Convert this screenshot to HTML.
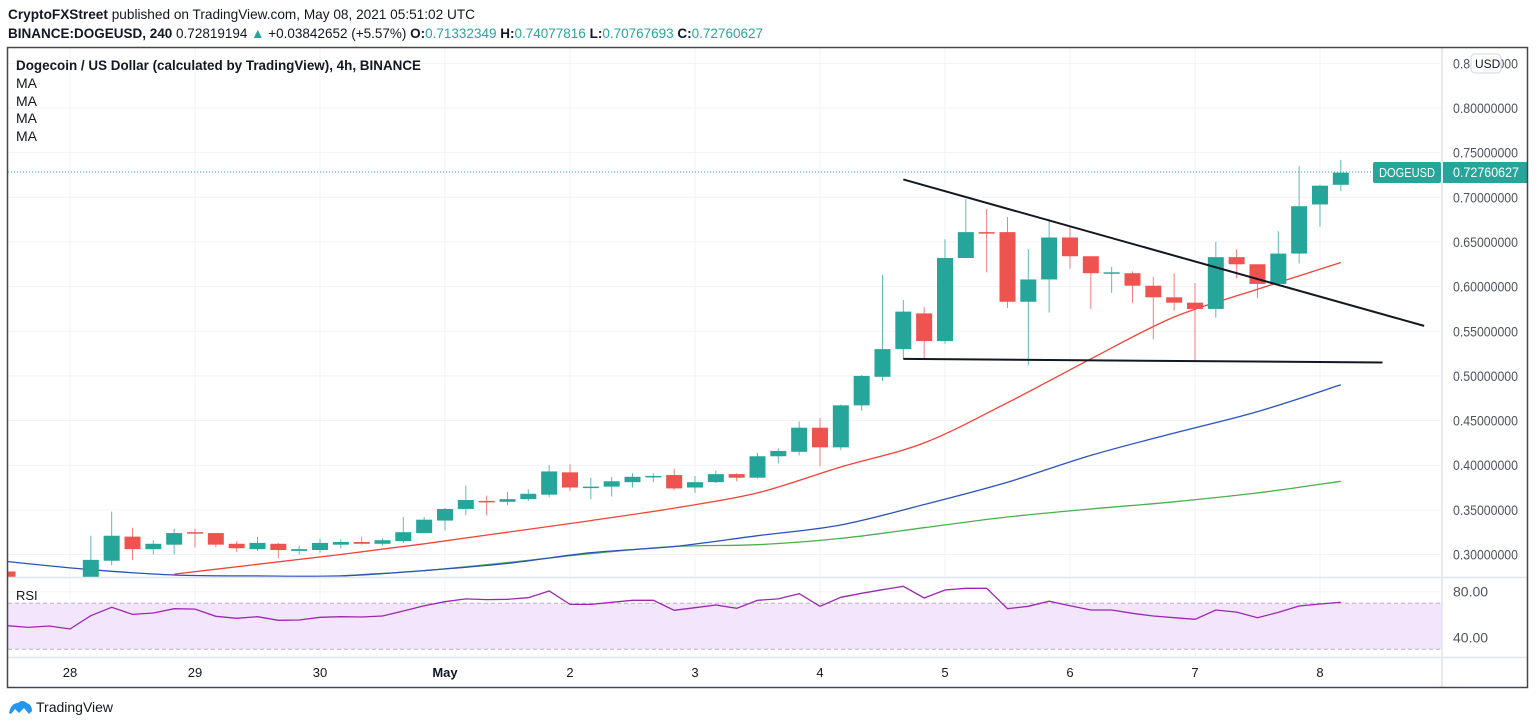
<!DOCTYPE html>
<html><head><meta charset="utf-8"><style>
html,body{margin:0;padding:0;background:#fff;}
svg{display:block;font-family:"Liberation Sans",sans-serif;}
</style></head><body>
<svg id="chart" width="1536" height="727" viewBox="0 0 1536 727" xmlns="http://www.w3.org/2000/svg">
<defs>
<clipPath id="mainClip"><rect x="8" y="48" width="1434" height="529"/></clipPath>
</defs>
<g>
<text x="8" y="19" font-size="14" fill="#131722" textLength="467" lengthAdjust="spacingAndGlyphs"><tspan font-weight="bold">CryptoFXStreet</tspan> published on TradingView.com, May 08, 2021 05:51:02 UTC</text>
<text x="8" y="38" font-size="14" fill="#131722" textLength="755" lengthAdjust="spacingAndGlyphs"><tspan font-weight="bold">BINANCE:DOGEUSD, 240</tspan> 0.72819194 <tspan fill="#26a69a">▲</tspan> +0.03842652 (+5.57%) <tspan font-weight="bold">O:</tspan><tspan fill="#26a69a">0.71332349</tspan> <tspan font-weight="bold">H:</tspan><tspan fill="#26a69a">0.74077816</tspan> <tspan font-weight="bold">L:</tspan><tspan fill="#26a69a">0.70767693</tspan> <tspan font-weight="bold">C:</tspan><tspan fill="#26a69a">0.72760627</tspan></text>
</g>
<g id="grid"></g>
<g id="mas" clip-path="url(#mainClip)"></g>
<g id="candles" clip-path="url(#mainClip)"></g>
<g id="trend" clip-path="url(#mainClip)"></g>
<line x1="8" y1="172" x2="1442" y2="172" stroke="#26a69a" stroke-width="1" stroke-dasharray="1,2"/>
<g id="rsi"></g>
<g id="axes"></g>
<g>
<text x="16" y="70" font-size="14" font-weight="bold" fill="#131722" textLength="405" lengthAdjust="spacingAndGlyphs">Dogecoin / US Dollar (calculated by TradingView), 4h, BINANCE</text>
<text x="16" y="88" font-size="14" fill="#131722">MA</text>
<text x="16" y="106" font-size="14" fill="#131722">MA</text>
<text x="16" y="123" font-size="14" fill="#131722">MA</text>
<text x="16" y="141" font-size="14" fill="#131722">MA</text>
<text x="16" y="600" font-size="13" fill="#131722">RSI</text>
</g>
<rect x="1373" y="162" width="68" height="21" rx="2" fill="#26a69a"/>
<text x="1379" y="177" font-size="13" fill="#fff" textLength="56" lengthAdjust="spacingAndGlyphs">DOGEUSD</text>
<rect x="1443" y="162" width="84" height="21" fill="#26a69a"/>
<text x="1453" y="177" font-size="14" fill="#fff" textLength="66" lengthAdjust="spacingAndGlyphs">0.72760627</text>
<rect x="1471" y="54" width="30" height="19" rx="4" fill="#fff" stroke="#d1d4dc"/>
<text x="1475" y="68" font-size="12" fill="#131722">USD</text>
<rect x="7.5" y="47.5" width="1520" height="640" fill="none" stroke="#434651" stroke-width="1.5"/>
<g>
<path d="M9 713 Q11 703 18 703 Q22 699 27 703 Q32 705 32 711 L29 714 L24 708 L19 713 L15 709 L11 714 Z" fill="#2196f3"/>
<text x="36" y="712" font-size="14" fill="#131722">TradingView</text>
</g>
</svg>
<script>
// candle data (index i -> 4h bars, starting Apr 27 12:00)
const opens  = [0.281,0.262,0.262,0.262,0.262,0.293,0.320,0.306,0.311,0.325,0.324,0.312,0.306,0.312,0.304,0.305,0.311,0.314,0.312,0.315,0.324,0.338,0.351,0.360,0.359,0.362,0.367,0.392,0.375,0.376,0.381,0.387,0.389,0.375,0.381,0.390,0.386,0.410,0.415,0.442,0.420,0.467,0.499,0.530,0.570,0.539,0.632,0.661,0.661,0.583,0.608,0.655,0.634,0.615,0.615,0.601,0.588,0.582,0.575,0.633,0.625,0.603,0.637,0.692,0.714];
const closes = [0.272,0.263,0.263,0.261,0.294,0.321,0.306,0.312,0.324,0.324,0.311,0.307,0.313,0.305,0.306,0.313,0.314,0.312,0.316,0.325,0.339,0.351,0.361,0.359,0.362,0.368,0.393,0.375,0.376,0.382,0.387,0.388,0.374,0.381,0.390,0.386,0.410,0.416,0.442,0.420,0.467,0.500,0.530,0.572,0.539,0.632,0.661,0.660,0.583,0.608,0.655,0.634,0.615,0.616,0.601,0.588,0.582,0.575,0.633,0.625,0.603,0.637,0.690,0.713,0.7276];
const highs  = [0.283,0.266,0.268,0.266,0.321,0.348,0.330,0.316,0.329,0.329,0.324,0.315,0.320,0.313,0.310,0.318,0.317,0.320,0.318,0.342,0.342,0.352,0.377,0.366,0.370,0.373,0.400,0.401,0.386,0.387,0.391,0.391,0.396,0.388,0.394,0.391,0.414,0.419,0.449,0.453,0.468,0.501,0.613,0.585,0.577,0.653,0.698,0.687,0.678,0.642,0.676,0.667,0.634,0.622,0.617,0.611,0.615,0.604,0.650,0.642,0.625,0.662,0.735,0.714,0.742];
const lows   = [0.265,0.258,0.258,0.258,0.260,0.288,0.294,0.300,0.300,0.308,0.308,0.303,0.304,0.296,0.300,0.302,0.307,0.311,0.310,0.313,0.324,0.327,0.344,0.344,0.355,0.360,0.364,0.371,0.362,0.365,0.375,0.381,0.372,0.369,0.380,0.382,0.385,0.402,0.411,0.399,0.417,0.461,0.494,0.519,0.520,0.536,0.632,0.616,0.576,0.512,0.571,0.620,0.575,0.593,0.582,0.541,0.573,0.517,0.565,0.609,0.587,0.603,0.626,0.667,0.707];
// moving averages sampled every 4 bars (bar index 0,4,8,...,64)
const maRed   = [null,null,0.278,0.289,0.300,0.312,0.325,0.338,0.352,0.369,0.398,0.425,0.470,0.519,0.566,0.597,0.627];
const maBlue  = [0.292,0.283,0.277,0.276,0.276,0.282,0.290,0.302,0.309,0.321,0.333,0.356,0.381,0.411,0.436,0.460,0.490];
const maGreen = [null,null,null,null,0.276,0.282,0.291,0.301,0.309,0.311,0.318,0.330,0.342,0.351,0.359,0.369,0.382];
const rsiVals = [50.4,49.0,50.2,47.6,59.1,66.4,60.3,61.5,65.2,64.9,58.6,56.9,58.3,55.1,55.4,57.7,58.3,58.0,58.9,63.2,67.8,71.3,73.7,73.1,73.4,74.8,80.6,69.0,69.0,70.8,72.5,72.5,63.8,66.1,68.4,65.6,72.5,73.7,78.3,67.3,75.1,78.6,81.7,84.7,74.5,81.5,83.0,83.0,65.2,67.3,71.7,67.8,64.1,64.1,61.2,58.9,57.4,56.0,64.1,62.3,57.4,62.0,67.6,69.3,70.8];
const priceTicks = [0.85,0.80,0.75,0.70,0.65,0.60,0.55,0.50,0.45,0.40,0.35,0.30];
const rsiTicks = [80,40];
const dayLabels = ["28","29","30","May","2","3","4","5","6","7","8"];
const dayBarIndex = [3,9,15,21,27,33,39,45,51,57,63];
// trendlines in (bar index, price)
const upperTrend = [[43,0.720],[68,0.556]];
const lowerTrend = [[43,0.519],[66,0.515]];

const NS="http://www.w3.org/2000/svg";
const xOf = i => 7.5 + i*20.833;
const yOf = p => 108 + (0.80-p)*893;
const rY = v => 591.7 + (80-v)*1.15;
function mk(tag, attrs, parent){const e=document.createElementNS(NS,tag);for(const k in attrs)e.setAttribute(k,attrs[k]);parent.appendChild(e);return e;}
const grid=document.getElementById('grid'), cg=document.getElementById('candles'), mg=document.getElementById('mas'), tg=document.getElementById('trend'), rg=document.getElementById('rsi'), ag=document.getElementById('axes');

// grid
priceTicks.forEach(p=>{const l=mk('line',{x1:8,x2:1442,y1:yOf(p),y2:yOf(p),stroke:'#f0f3fa','stroke-width':1},grid);

});
dayBarIndex.forEach(i=>{const l=mk('line',{x1:xOf(i),x2:xOf(i),y1:48,y2:657,stroke:'#f0f3fa','stroke-width':1},grid);

});
rsiTicks.forEach(v=>{const l=mk('line',{x1:8,x2:1442,y1:rY(v),y2:rY(v),stroke:'#f0f3fa'},grid);

});
mk('line',{x1:1442,x2:1442,y1:48,y2:688,stroke:'#e0e3eb','stroke-width':1.5},ag);
mk('line',{x1:8,x2:1528,y1:577.5,y2:577.5,stroke:'#e0e3eb','stroke-width':1.5},ag);
mk('line',{x1:8,x2:1528,y1:657.5,y2:657.5,stroke:'#e0e3eb','stroke-width':1.5},ag);

// MAs (smoothed through sample points, Catmull-Rom)
function maPath(arr,color,name){const pts=[];arr.forEach((v,k)=>{if(v!=null)pts.push([xOf(k*4),yOf(v)]);});
let d='M'+pts[0][0].toFixed(1)+' '+pts[0][1].toFixed(1);
for(let i=0;i<pts.length-1;i++){const p0=pts[i-1]||pts[i],p1=pts[i],p2=pts[i+1],p3=pts[i+2]||p2;
const c1=[p1[0]+(p2[0]-p0[0])/6,p1[1]+(p2[1]-p0[1])/6],c2=[p2[0]-(p3[0]-p1[0])/6,p2[1]-(p3[1]-p1[1])/6];
d+='C'+c1[0].toFixed(1)+' '+c1[1].toFixed(1)+' '+c2[0].toFixed(1)+' '+c2[1].toFixed(1)+' '+p2[0].toFixed(1)+' '+p2[1].toFixed(1);}
const p=mk('path',{d:d,fill:'none',stroke:color,'stroke-width':1.3},mg);

}
maPath(maGreen,'#4caf50','ma-green');
maPath(maBlue,'#2a52be','ma-blue');
maPath(maRed,'#f44336','ma-red');

// candles
opens.forEach((o,i)=>{const c=closes[i],up=c>=o,col=up?'#26a69a':'#ef5350',x=xOf(i);
const w=mk('line',{x1:x,x2:x,y1:yOf(highs[i]),y2:yOf(lows[i]),stroke:col,'stroke-width':1,opacity:0.75},cg);


const top=yOf(Math.max(o,c)),h=Math.max(1.5,Math.abs(yOf(o)-yOf(c)));
const b=mk('rect',{x:x-8,y:top,width:16,height:h,fill:col},cg);

});

// trendlines
[[upperTrend,'upper-trendline'],[lowerTrend,'lower-trendline']].forEach(([t,n])=>{const l=mk('line',{x1:xOf(t[0][0]),y1:yOf(t[0][1]),x2:xOf(t[1][0]),y2:yOf(t[1][1]),stroke:'#131722','stroke-width':2},tg);

});

// RSI
const band=mk('rect',{x:8,y:rY(70),width:1434,height:rY(30)-rY(70),fill:'#f3e5fc'},rg);


[70,30].forEach(v=>{const l=mk('line',{x1:8,x2:1442,y1:rY(v),y2:rY(v),stroke:'#b2b5be','stroke-dasharray':'4,3'},rg);

});
let rd='';rsiVals.forEach((v,i)=>{rd+=(i?'L':'M')+xOf(i).toFixed(1)+' '+rY(v).toFixed(1);});
const rl=mk('path',{d:rd,fill:'none',stroke:'#9c27b0','stroke-width':1.3},rg);



// axis labels
priceTicks.forEach(p=>{const t=mk('text',{x:1453,y:yOf(p)+5,'font-size':14,fill:'#50535e',textLength:65,lengthAdjust:'spacingAndGlyphs'},ag);t.textContent=p.toFixed(8);

});
rsiTicks.forEach(v=>{const t=mk('text',{x:1453,y:rY(v)+5,'font-size':14,fill:'#50535e'},ag);t.textContent=v.toFixed(2);

});
dayLabels.forEach((s,k)=>{const t=mk('text',{x:xOf(dayBarIndex[k]),y:677,'font-size':13,fill:'#131722','text-anchor':'middle','font-weight':s==='May'?'bold':'normal'},ag);t.textContent=s;

});
</script>
</body></html>
